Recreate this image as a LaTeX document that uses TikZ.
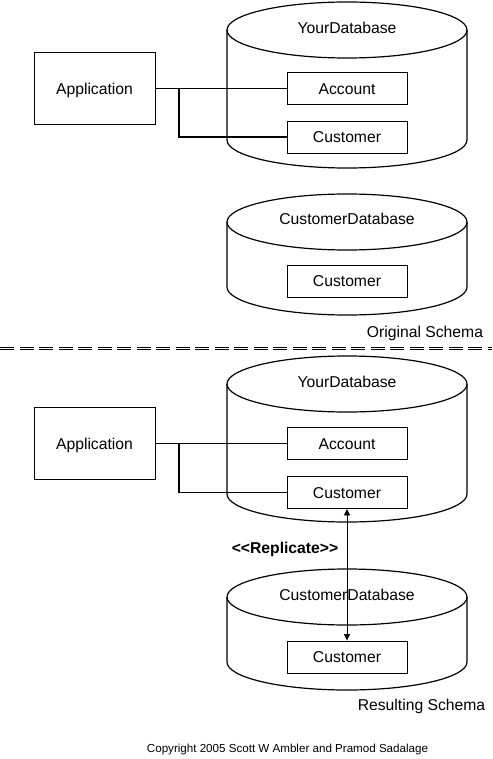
\documentclass[tikz,border=0pt]{standalone}
\usepackage{fontspec}
\setmainfont{Liberation Sans}
\usetikzlibrary{arrows.meta}
\tikzset{
  lbl/.style={font=\fontsize{15.7}{18}\selectfont, text height=11.2pt, text depth=0pt, inner sep=0pt},
  tbl/.style={lbl, draw, line width=0.9pt, minimum width=120pt, minimum height=32pt},
  appbox/.style={lbl, draw, line width=1pt, minimum width=121pt, minimum height=72pt},
  cyl/.style={line width=1.2pt},
  conn/.style={line width=1.4pt},
  sep/.style={double, double distance=1.6pt, line width=0.9pt, dash pattern=on 14pt off 5.5pt},
  small/.style={font=\fontsize{11.6}{14}\selectfont, text height=8.3pt, text depth=0pt, inner sep=0pt}
}
\newcommand{\dbcyl}[2]{%
  \draw[cyl] (227,-#1) -- (227,-#2) arc[start angle=180, end angle=360, x radius=120pt, y radius=28pt] -- (467,-#1);
  \draw[cyl] (347,-#1) ellipse[x radius=120pt, y radius=28pt];
}
\begin{document}
\begin{tikzpicture}[x=1pt,y=1pt]
\useasboundingbox (0,0) rectangle (492,-759);

% ---------- Original schema ----------
\dbcyl{30}{140}
\node[lbl] (ydb1) at (347,-28) {YourDatabase};
\node[appbox] (app1) at (94.5,-88.5) {Application};
\node[tbl] (acc1) at (347,-88.5) {Account};
\node[tbl] (cus1) at (347,-137) {Customer};
\coordinate (j1) at (179,-88.5);
\draw[conn] (app1.east) -- (acc1.west);
\draw[conn] (j1) |- (cus1.west);

\dbcyl{222}{287}
\node[lbl] (cdb1) at (347,-219) {CustomerDatabase};
\node[tbl] (cus2) at (347,-281) {Customer};

\node[lbl] (orig) at (425,-332) {Original Schema};

% ---------- separator ----------
\coordinate (sepL) at (0,-348.5);
\coordinate (sepR) at (492,-348.5);
\draw[sep] (sepL) -- (sepR);

% ---------- Resulting schema ----------
\dbcyl{384}{494}
\node[lbl] (ydb2) at (347,-382) {YourDatabase};
\node[appbox] (app2) at (94.5,-443.5) {Application};
\node[tbl] (acc2) at (347,-443.5) {Account};
\node[tbl] (cus3) at (347,-492.5) {Customer};
\coordinate (j2) at (179,-443.5);
\draw[conn] (app2.east) -- (acc2.west);
\draw[conn] (j2) |- (cus3.west);

\dbcyl{597}{662}
\node[lbl] (cdb2) at (347,-595) {CustomerDatabase};
\node[tbl] (cus4) at (347,-657) {Customer};

\node[lbl, font=\fontsize{15.7}{18}\selectfont\bfseries] (rep) at (285,-548) {<{}<Replicate>{}>};
\draw[line width=0.9pt, {Triangle[length=6.5pt,width=6pt]}-{Triangle[length=6.5pt,width=6pt]}] (cus3.south) -- (cus4.north);

\node[lbl] (res) at (421.5,-705) {Resulting Schema};

\node[small] (copy) at (287.5,-748) {Copyright 2005 Scott W Ambler and Pramod Sadalage};
\end{tikzpicture}
\end{document}
